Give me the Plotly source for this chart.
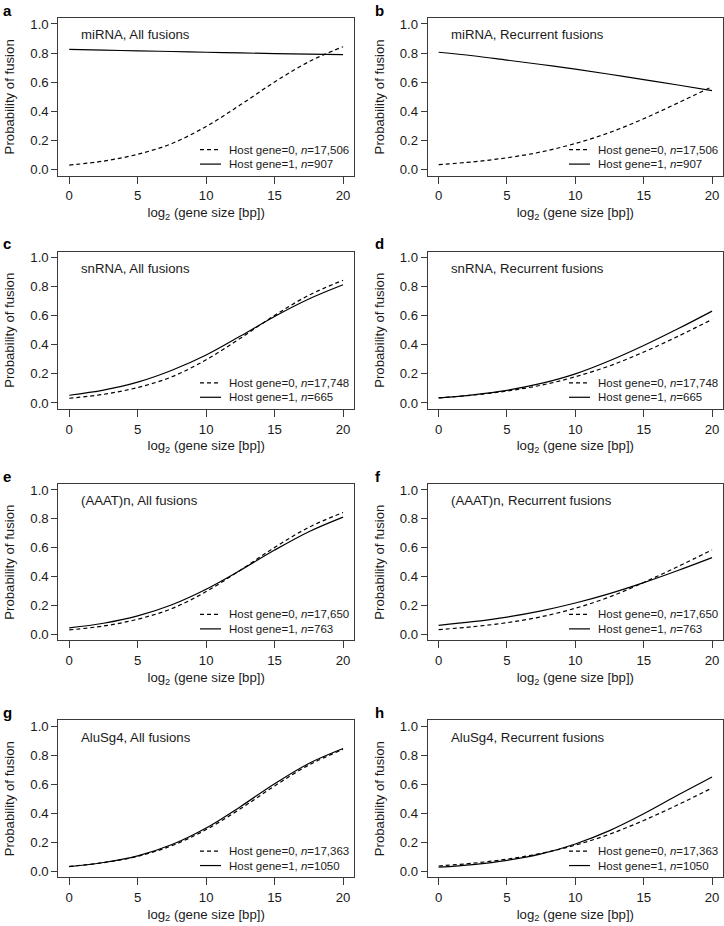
import plotly.graph_objects as go

# ---------------- data ----------------
x_vals = [0, 2.5, 5, 7.5, 10, 12.5, 15, 17.5, 20]

panel_letters = ["a", "b", "c", "d", "e", "f", "g", "h"]
panel_titles = [
    "miRNA, All fusions", "miRNA, Recurrent fusions",
    "snRNA, All fusions", "snRNA, Recurrent fusions",
    "(AAAT)n, All fusions", "(AAAT)n, Recurrent fusions",
    "AluSg4, All fusions", "AluSg4, Recurrent fusions",
]
n_host0 = ["17,506", "17,506", "17,748", "17,748", "17,650", "17,650", "17,363", "17,363"]
n_host1 = ["907", "907", "665", "665", "763", "763", "1050", "1050"]

host0_a = [0.032, 0.059, 0.106, 0.180, 0.297, 0.445, 0.602, 0.741, 0.844]
host1_a = [0.825, 0.820, 0.816, 0.811, 0.806, 0.801, 0.797, 0.793, 0.789]
host0_b = [0.035, 0.054, 0.082, 0.122, 0.180, 0.255, 0.350, 0.458, 0.570]
host1_b = [0.806, 0.782, 0.752, 0.722, 0.690, 0.655, 0.618, 0.581, 0.543]
host0_c = [0.032, 0.059, 0.106, 0.180, 0.297, 0.445, 0.602, 0.741, 0.844]
host1_c = [0.053, 0.088, 0.143, 0.225, 0.330, 0.460, 0.595, 0.715, 0.813]
host0_d = [0.035, 0.054, 0.082, 0.122, 0.180, 0.255, 0.350, 0.458, 0.575]
host1_d = [0.035, 0.056, 0.087, 0.134, 0.200, 0.290, 0.395, 0.510, 0.632]
host0_e = [0.032, 0.059, 0.106, 0.180, 0.297, 0.445, 0.602, 0.741, 0.844]
host1_e = [0.046, 0.078, 0.129, 0.206, 0.313, 0.444, 0.584, 0.711, 0.812]
host0_f = [0.034, 0.054, 0.082, 0.123, 0.182, 0.260, 0.360, 0.470, 0.585]
host1_f = [0.064, 0.089, 0.121, 0.164, 0.218, 0.283, 0.359, 0.443, 0.532]
host0_g = [0.033, 0.059, 0.103, 0.176, 0.287, 0.430, 0.588, 0.732, 0.840]
host1_g = [0.032, 0.060, 0.106, 0.184, 0.298, 0.445, 0.603, 0.743, 0.846]
host0_h = [0.036, 0.055, 0.083, 0.123, 0.180, 0.255, 0.350, 0.458, 0.574]
host1_h = [0.028, 0.046, 0.075, 0.120, 0.188, 0.280, 0.396, 0.525, 0.650]

host0 = [host0_a, host0_b, host0_c, host0_d, host0_e, host0_f, host0_g, host0_h]
host1 = [host1_a, host1_b, host1_c, host1_d, host1_e, host1_f, host1_g, host1_h]

x_ticks = [0, 5, 10, 15, 20]
y_ticks = [0.0, 0.2, 0.4, 0.6, 0.8, 1.0]

# ---------------- layout geometry ----------------
W, H = 724, 926
col_px = [(58.3, 354.0), (427.7, 723.0)]
row_px = [(16.2, 174.3), (250.9, 408.5), (484.2, 641.1), (721.5, 878.8)]

FONT = "Liberation Sans, Arial, Helvetica, sans-serif"
TXT = "#1a1a1a"
AX = "#3a3a3a"
DASH = "4px,3px"
LW = 1.2

fig = go.Figure()
layout = dict(
    width=W, height=H,
    margin=dict(l=0, r=0, t=0, b=0),
    paper_bgcolor="white", plot_bgcolor="white",
    font=dict(family=FONT, size=13, color=TXT),
    showlegend=False,
)
annotations = []
shapes = []

for i in range(8):
    r, c = divmod(i, 2)
    k = i + 1
    xa = "xaxis" if k == 1 else f"xaxis{k}"
    ya = "yaxis" if k == 1 else f"yaxis{k}"
    xr = "x" if k == 1 else f"x{k}"
    yr = "y" if k == 1 else f"y{k}"

    x0p, x1p = col_px[c]
    t_px, b_px = row_px[r]
    pw, ph = x1p - x0p, b_px - t_px
    xdom = [x0p / W, x1p / W]
    ydom = [1 - b_px / H, 1 - t_px / H]

    layout[xa] = dict(
        domain=xdom, anchor=yr, range=[-0.8, 20.8],
        tickvals=x_ticks, ticktext=[str(v) for v in x_ticks],
        ticks="outside", ticklen=7, tickwidth=1, tickcolor=AX,
        ticklabelstandoff=1,
        showline=True, linecolor=AX, linewidth=1, mirror=True,
        showgrid=False, zeroline=False,
        tickfont=dict(size=13.2, color=TXT),
        title=dict(text="log<sub>2</sub> (gene size [bp])", standoff=5,
                   font=dict(size=13.2, color=TXT)),
    )
    layout[ya] = dict(
        domain=ydom, anchor=xr, range=[-0.04, 1.04],
        tickvals=y_ticks, ticktext=[f"{v:.1f}" for v in y_ticks],
        ticks="outside", ticklen=6, tickwidth=1, tickcolor=AX,
        showline=True, linecolor=AX, linewidth=1, mirror=True,
        showgrid=False, zeroline=False,
        tickfont=dict(size=13.2, color=TXT),
        title=dict(text="Probability of fusion", standoff=12,
                   font=dict(size=13.2, color=TXT)),
    )

    fig.add_trace(go.Scatter(
        x=x_vals, y=host0[i], mode="lines", xaxis=xr, yaxis=yr,
        line=dict(color="black", width=LW, dash=DASH, shape="spline"),
        name=f"Host gene=0, n={n_host0[i]}",
    ))
    fig.add_trace(go.Scatter(
        x=x_vals, y=host1[i], mode="lines", xaxis=xr, yaxis=yr,
        line=dict(color="black", width=LW, shape="spline"),
        name=f"Host gene=1, n={n_host1[i]}",
    ))

    # legend (bottom-right, no box)
    leg_rows = [
        (f"Host gene=0, <i>n</i>={n_host0[i]}", DASH, 26.0),
        (f"Host gene=1, <i>n</i>={n_host1[i]}", "solid", 11.5),
    ]
    for label, dash, off in leg_rows:
        yd = off / ph
        shapes.append(dict(
            type="line", xref=f"{xr} domain", yref=f"{yr} domain",
            x0=(pw - 154) / pw, x1=(pw - 133) / pw, y0=yd, y1=yd,
            line=dict(color="black", width=LW, dash=dash),
        ))
        annotations.append(dict(
            text=label, xref=f"{xr} domain", yref=f"{yr} domain",
            x=(pw - 127.5) / pw, y=yd, xanchor="left", yanchor="middle",
            showarrow=False, font=dict(size=11.5, color=TXT),
        ))

    # panel title inside the frame
    annotations.append(dict(
        text=panel_titles[i], xref=f"{xr} domain", yref=f"{yr} domain",
        x=21.0 / pw, y=1 - 16.8 / ph,
        xanchor="left", yanchor="middle", showarrow=False,
        font=dict(size=13.2, color=TXT),
    ))
    # panel letter
    annotations.append(dict(
        text=f"<b>{panel_letters[i]}</b>", xref="paper", yref="paper",
        x=(0.5 if c == 0 else 373) / W, y=1 - (t_px - 8.0) / H,
        xanchor="left", yanchor="middle", showarrow=False,
        font=dict(size=15, color="black"),
    ))

layout["annotations"] = annotations
layout["shapes"] = shapes
fig.update_layout(**layout)
fig.write_html("out.html", config={"displayModeBar": False},
               post_script="document.body.style.margin='0px';")
